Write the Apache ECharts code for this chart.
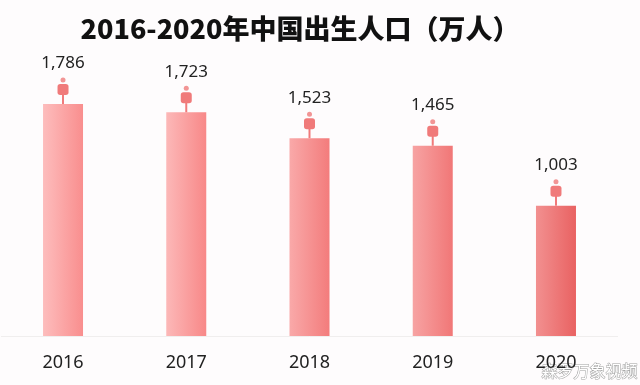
<!DOCTYPE html>
<html><head><meta charset="utf-8">
<script src="https://cdn.jsdelivr.net/npm/echarts@6/dist/echarts.min.js"></script>
<style>html,body{margin:0;padding:0;background:#fefcfd}#c{width:640px;height:385px}</style>
</head><body><div id="c"></div>
<script>
var categories = ['2016', '2017', '2018', '2019', '2020'];
var births = [1786, 1723, 1523, 1465, 1003];
var titleText = '2016-2020年中国出生人口（万人）';
var watermark = '森罗万象视频';

var barColors = [
  ['#fdbdbd', '#f98e8e'],
  ['#fcb8b8', '#f88888'],
  ['#f9a9a9', '#f37c7c'],
  ['#f7a3a3', '#f17777'],
  ['#f29090', '#e96262']
];
function grad(c){return new echarts.graphic.LinearGradient(0,0,1,0,[{offset:0,color:c[0]},{offset:1,color:c[1]}]);}

var chart = echarts.init(document.getElementById('c'), null, {renderer:'canvas'});
var markColor = '#f07a7a';
chart.setOption({
  backgroundColor: '#fefcfd',
  animation: false,
  title: {
    text: titleText, left: 295, top: 10, textAlign: 'center',
    textStyle: {fontFamily: 'Noto Sans CJK SC', fontWeight: 900, fontSize: 27, color: '#111'}
  },
  grid: {left: 1.4, right: 22.4, top: 36, bottom: 49},
  xAxis: {
    type: 'category', data: categories,
    axisLine: {lineStyle: {color: '#f0eeee'}}, axisTick: {show: false},
    axisLabel: {color: '#222', fontSize: 18, margin: 18, fontFamily: 'Noto Sans'}
  },
  yAxis: {type: 'value', min: 0, max: 2310, show: false, splitLine: {show: false}},
  series: [
    {
      type: 'bar', barWidth: 40,
      data: births.map(function(v,i){return {value:v, itemStyle:{color:grad(barColors[i])}};}),
      label: {
        show: true, position: 'top', distance: 32, color: '#222', fontSize: 17, fontFamily: 'Noto Sans',
        formatter: function(p){return p.value.toLocaleString('en-US');}
      }
    },
    {
      type: 'scatter', data: births, symbol: 'rect', symbolSize: [2, 10], symbolOffset: [0, -5],
      itemStyle: {color: markColor, opacity: 1}, silent: true, z: 3
    },
    {
      type: 'scatter', data: births, symbol: 'roundRect', symbolSize: [11, 11], symbolOffset: [0, -14.5],
      itemStyle: {color: markColor, opacity: 1}, silent: true, z: 4
    },
    {
      type: 'scatter', data: births, symbol: 'circle', symbolSize: 5, symbolOffset: [0, -24],
      itemStyle: {color: '#f29595', opacity: 1}, silent: true, z: 4
    }
  ],
  graphic: [{
    type: 'text', right: 2, bottom: 6,
    style: {text: watermark, fill: '#ffffff', stroke: '#a0a0a0', lineWidth: 1,
      font: '16px "Noto Sans CJK SC"'}
  }]
});
</script></body></html>
